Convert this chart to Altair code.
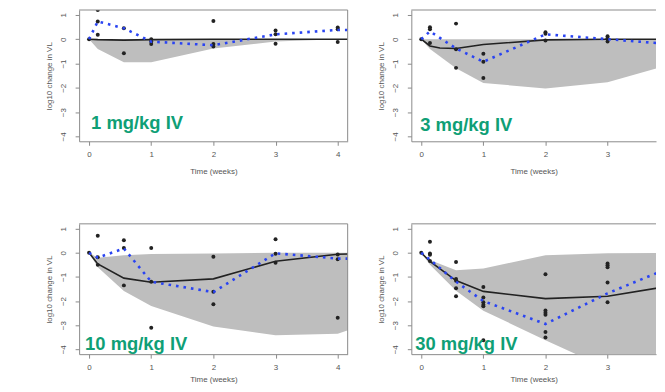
import altair as alt
import pandas as pd

# ---------------- data ----------------
LABELS = ["1 mg/kg IV", "3 mg/kg IV", "10 mg/kg IV", "30 mg/kg IV"]
X_TICKS = [0, 1, 2, 3, 4]
Y_TICKS = [1, 0, -1, -2, -3, -4]

# 1 mg/kg IV
p1_obs_t = [0, 0.14, 0.14, 0.14, 0.56, 0.56, 1, 1, 1, 2, 2, 2, 3, 3, 3, 4, 4, 4]
p1_obs_v = [0, 1.2, 0.73, 0.18, 0.45, -0.58, 0, -0.1, -0.2, 0.75, -0.2, -0.3, 0.36, 0.2, -0.19, 0.48, 0.41, -0.12]
p1_mean_t = [0, 0.14, 0.56, 1, 2, 3, 4, 5]
p1_mean_v = [0, 0.73, 0.45, -0.1, -0.25, 0.2, 0.38, 0.38]
p1_med_t = [0, 0.14, 0.56, 1, 2, 3, 4, 5]
p1_med_v = [0, -0.02, -0.04, -0.02, 0, 0, 0, 0]
p1_band_t = [0, 0.14, 0.56, 1, 2, 3, 4, 5]
p1_band_lo = [0, -0.4, -0.95, -0.95, -0.38, -0.1, 0, 0]
p1_band_hi = [0, 0, 0, 0, 0, 0, 0, 0]

# 3 mg/kg IV
p2_obs_t = [0, 0.14, 0.14, 0.14, 0.56, 0.56, 0.56, 1, 1, 1, 2, 2, 2, 3, 3, 3]
p2_obs_v = [0, 0.49, 0.41, -0.16, 0.64, -0.41, -1.18, -0.6, -0.93, -1.6, 0.29, 0.22, -0.05, 0.12, 0.04, -0.1]
p2_mean_t = [0, 0.14, 0.56, 1, 2, 3, 4]
p2_mean_v = [0, 0.32, -0.38, -0.93, 0.2, 0.0, -0.2]
p2_med_t = [0, 0.14, 0.3, 0.56, 1, 2, 3, 4]
p2_med_v = [0, -0.28, -0.36, -0.38, -0.22, -0.03, 0, 0]
p2_band_t = [0, 0.14, 0.56, 1, 2, 3, 4]
p2_band_lo = [0, -0.4, -1.2, -1.8, -2.03, -1.77, -1.05]
p2_band_hi = [0, 0, 0, 0, 0, 0, 0]

# 10 mg/kg IV
p3_obs_t = [0, 0.14, 0.14, 0.14, 0.56, 0.56, 0.56, 1, 1, 1, 2, 2, 2, 3, 3, 3, 4, 4, 4]
p3_obs_v = [0, 0.71, -0.18, -0.5, 0.52, 0.2, -1.35, 0.2, -1.2, -3.11, -0.16, -1.61, -2.13, 0.56, -0.04, -0.41, -0.07, -0.27, -2.69]
p3_mean_t = [0, 0.14, 0.56, 1, 2, 3, 4, 5]
p3_mean_v = [0, -0.2, 0.18, -1.2, -1.63, -0.02, -0.24, -0.24]
p3_med_t = [0, 0.14, 0.56, 1, 2, 3, 4, 5]
p3_med_v = [0, -0.46, -1.05, -1.22, -1.08, -0.35, -0.06, 0.0]
p3_band_t = [0, 0.14, 0.56, 1, 2, 3, 4, 5]
p3_band_lo = [0, -0.6, -1.58, -2.2, -3.05, -3.42, -3.35, -2.5]
p3_band_hi = [0, -0.2, -0.1, -0.05, -0.03, 0, 0, 0]

# 30 mg/kg IV
p4_obs_t = [0, 0.14, 0.14, 0.14, 0.14, 0.56, 0.56, 0.56, 0.56, 0.56,
            1, 1, 1, 1, 1, 1, 2, 2, 2, 2, 2, 2, 3, 3, 3, 3, 3]
p4_obs_v = [0, 0.46, -0.03, -0.08, -0.34, -0.38, -1.09, -1.16, -1.47, -1.8,
            -1.42, -1.85, -2.05, -2.15, -2.22, -3.62, -0.89, -2.39, -2.48, -2.57, -3.28, -3.51,
            -0.44, -0.52, -0.6, -1.23, -2.05]
p4_mean_t = [0, 0.14, 0.56, 1, 2, 3, 4]
p4_mean_v = [0, -0.28, -1.2, -2.0, -2.95, -1.68, -0.62]
p4_med_t = [0, 0.14, 0.56, 1, 2, 3, 4]
p4_med_v = [0, -0.36, -1.15, -1.6, -1.9, -1.8, -1.38]
p4_band_t = [0, 0.14, 0.56, 1, 2, 3, 4]
p4_band_lo = [0, -0.5, -1.57, -2.4, -3.62, -4.8, -5.8]
p4_band_hi = [0, -0.3, -0.72, -0.65, -0.1, -0.02, 0]

# ---------------- style ----------------
FONT = "Liberation Sans"
GREEN = "#0f9f76"
FRAME = "#8a8a8a"
TXT = "#555555"


def panel(label, obs_t, obs_v, mean_t, mean_v, med_t, med_v, band_t, lo, hi,
          width, height, xmax, lab_x, lab_y, right_border, xtitle_pad):
    xs = alt.Scale(domain=[-0.16, xmax], nice=False, zero=False)
    ys = alt.Scale(domain=[-4.2, 1.2], nice=False, zero=False)
    xax = alt.Axis(values=X_TICKS, title="Time (weeks)", format="d", titlePadding=xtitle_pad)
    yax = alt.Axis(values=Y_TICKS, title="log10 change in VL", format="d",
                   labelAngle=270, labelAlign="center", labelBaseline="bottom")

    band_df = pd.DataFrame({"t": band_t, "lo": lo, "hi": hi})
    obs_df = pd.DataFrame({"t": obs_t, "v": obs_v})
    mean_df = pd.DataFrame({"t": mean_t, "v": mean_v})
    med_df = pd.DataFrame({"t": med_t, "v": med_v})

    X = alt.X("t:Q", scale=xs, axis=xax)

    band = alt.Chart(band_df).mark_area(color="#bebebe", opacity=1, clip=True).encode(
        x=X, y=alt.Y("lo:Q", scale=ys, axis=yax), y2="hi:Q")
    med = alt.Chart(med_df).mark_line(color="#222222", strokeWidth=1.6, clip=True).encode(
        x=X, y=alt.Y("v:Q", scale=ys, axis=yax))
    pts = alt.Chart(obs_df).mark_circle(color="#222222", size=16, opacity=1, clip=True).encode(
        x=X, y=alt.Y("v:Q", scale=ys, axis=yax))
    mean = alt.Chart(mean_df).mark_line(color="#2a44f2", strokeWidth=2.6,
                                        strokeDash=[2.6, 5], clip=True).encode(
        x=X, y=alt.Y("v:Q", scale=ys, axis=yax))
    one = pd.DataFrame({"label": [label]})
    top = alt.Chart(one).mark_rule(color=FRAME, strokeWidth=1).encode(
        x=alt.value(0), x2=alt.value(width), y=alt.value(0))
    txt = alt.Chart(one).mark_text(align="left", baseline="alphabetic", font=FONT,
                                   fontSize=18.5, fontWeight="bold", color=GREEN).encode(
        x=alt.value(lab_x), y=alt.value(lab_y), text="label:N")
    layers = [band, med, pts, mean, top]
    if right_border:
        layers.append(alt.Chart(one).mark_rule(color=FRAME, strokeWidth=1).encode(
            x=alt.value(width), y=alt.value(0), y2=alt.value(height)))
    layers.append(txt)
    return alt.layer(*layers).properties(width=width, height=height)


W_L, W_R = 270, 246
H_TOP, H_BOT = 132, 131
XMAX_L, XMAX_R = 4.16, 3.78

c1 = panel(LABELS[0], p1_obs_t, p1_obs_v, p1_mean_t, p1_mean_v, p1_med_t, p1_med_v,
           p1_band_t, p1_band_lo, p1_band_hi, W_L, H_TOP, XMAX_L, 12, 120, True, 9)
c2 = panel(LABELS[1], p2_obs_t, p2_obs_v, p2_mean_t, p2_mean_v, p2_med_t, p2_med_v,
           p2_band_t, p2_band_lo, p2_band_hi, W_R, H_TOP, XMAX_R, 9, 122, False, 9)
c3 = panel(LABELS[2], p3_obs_t, p3_obs_v, p3_mean_t, p3_mean_v, p3_med_t, p3_med_v,
           p3_band_t, p3_band_lo, p3_band_hi, W_L, H_BOT, XMAX_L, 6, 127, True, 5)
c4 = panel(LABELS[3], p4_obs_t, p4_obs_v, p4_mean_t, p4_mean_v, p4_med_t, p4_med_v,
           p4_band_t, p4_band_lo, p4_band_hi, W_R, H_BOT, XMAX_R, 4, 127, False, 5)

row1 = alt.hconcat(c1, c2, spacing=28)
row2 = alt.hconcat(c3, c4, spacing=28)

chart = alt.vconcat(row1, row2, spacing=48).properties(
    padding={"left": 36.5, "top": 0, "right": 0, "bottom": 0}
).configure_view(stroke=None).configure_axis(
    grid=False,
    domain=True, domainColor=FRAME, domainWidth=1,
    ticks=True, tickColor=FRAME, tickSize=4, tickWidth=1,
    labelFont=FONT, labelFontSize=8, labelColor=TXT, labelPadding=5,
    titleFont=FONT, titleFontSize=8, titleFontWeight="normal", titleColor=TXT,
).configure_axisY(labelPadding=8, titlePadding=6)

chart.save("out.html", embed_options={"renderer": "svg", "actions": False})
